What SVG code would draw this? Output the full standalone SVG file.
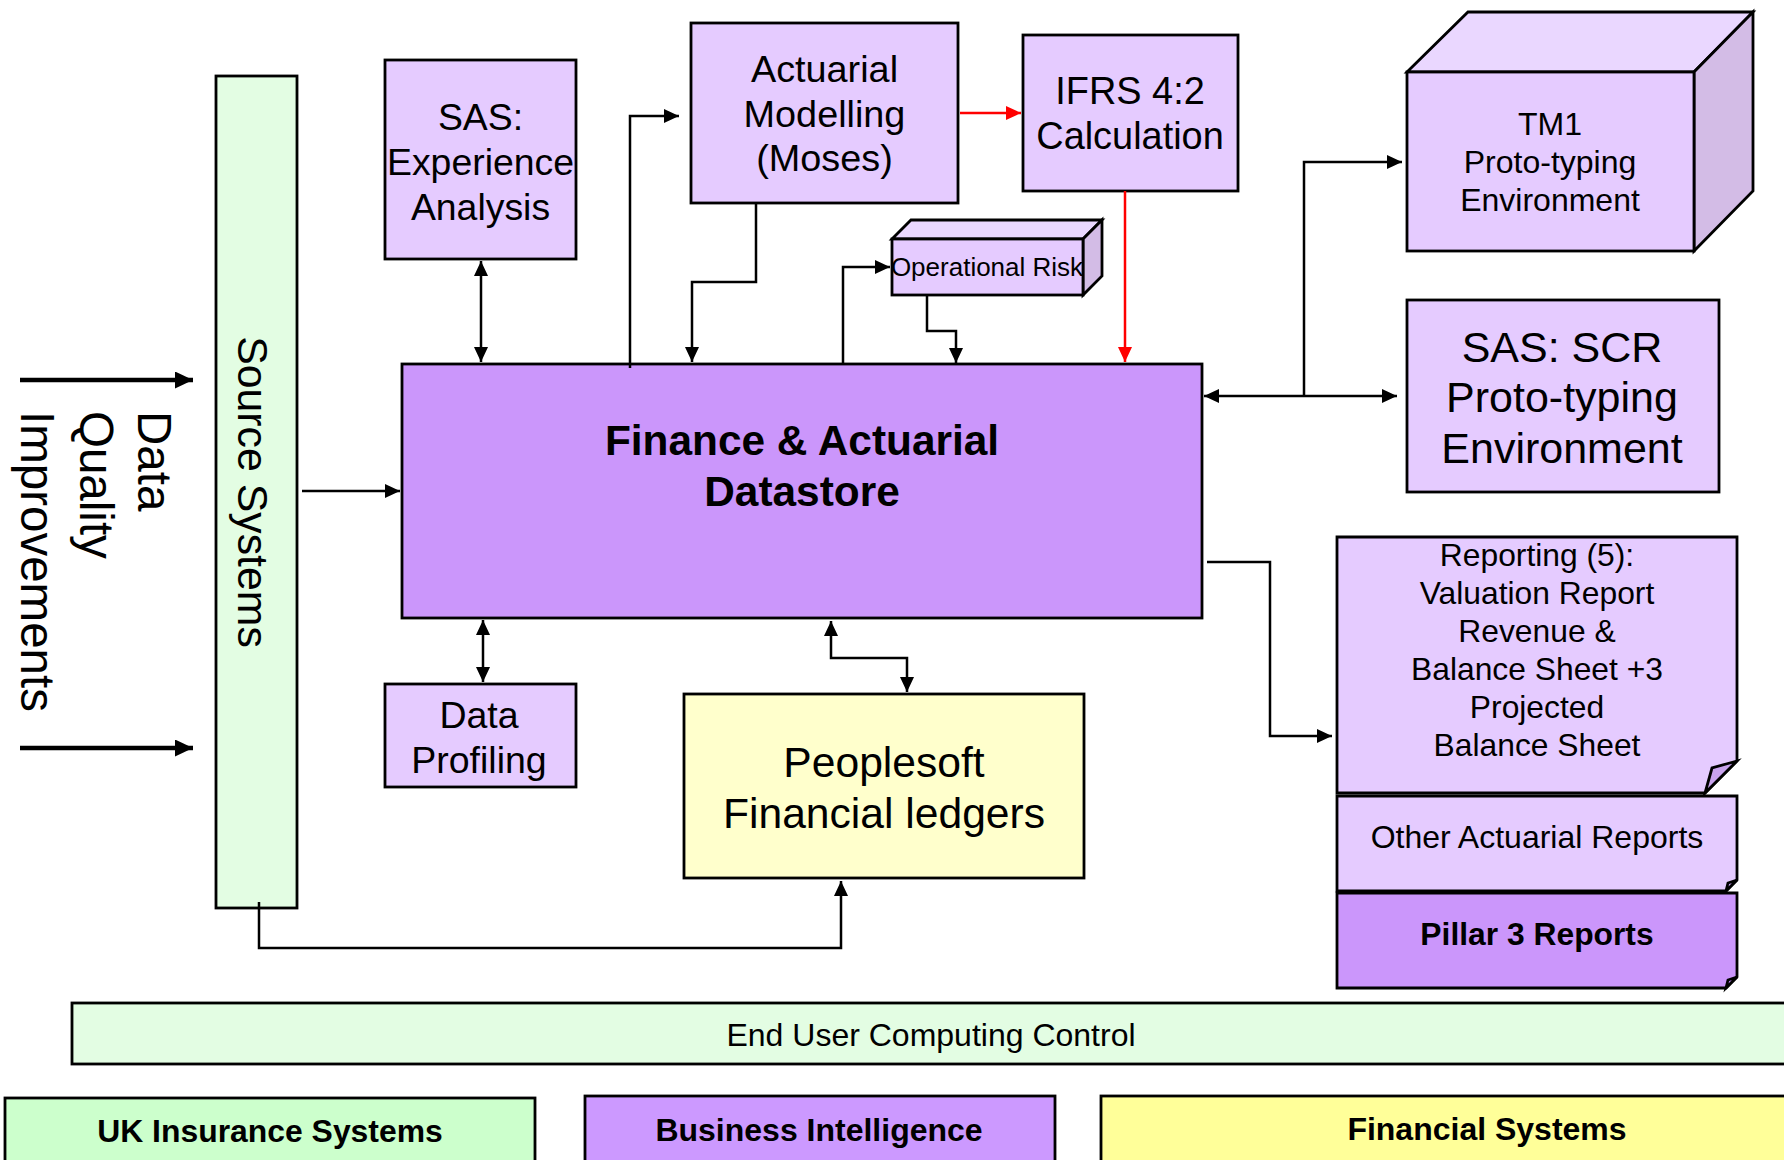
<svg xmlns="http://www.w3.org/2000/svg" width="1784" height="1160" viewBox="0 0 1784 1160">
<defs>
<style>
.box{stroke:#000;stroke-width:2.8}
.lp{fill:#E5CBFF}
.dp{fill:#CB96FB}
.lg{fill:#E3FDE3}
.t{font-family:"Liberation Sans",Arial,sans-serif;fill:#000;text-anchor:middle}
.b{font-weight:bold}
.c{fill:none;stroke:#000;stroke-width:2.5}
.r{fill:none;stroke:#FF0000;stroke-width:2.5}
.thick{fill:none;stroke:#000;stroke-width:4.5}
</style>
<marker id="ah" markerUnits="userSpaceOnUse" markerWidth="15" markerHeight="14" refX="15" refY="7" orient="auto-start-reverse" viewBox="0 0 15 14"><path d="M0,0 L15,7 L0,14 z" fill="#000"/></marker>
<marker id="ahr" markerUnits="userSpaceOnUse" markerWidth="15" markerHeight="14" refX="15" refY="7" orient="auto" viewBox="0 0 15 14"><path d="M0,0 L15,7 L0,14 z" fill="#FF0000"/></marker>
<marker id="aht" markerUnits="userSpaceOnUse" markerWidth="18" markerHeight="17" refX="18" refY="8.5" orient="auto" viewBox="0 0 18 17"><path d="M0,0 L18,8.5 L0,17 z" fill="#000"/></marker>
</defs>

<g id="source-systems">
<rect class="box lg" x="216" y="76" width="81" height="832"/>
<text class="t" font-size="42.8" transform="translate(253,492) rotate(90)" x="0" y="15">Source Systems</text>
</g>

<g id="data-quality">
<text class="t" font-size="47.5" style="text-anchor:start" transform="translate(0,411) rotate(90)"><tspan x="0" y="-138">Data</tspan><tspan x="0" y="-80">Quality</tspan><tspan x="0" y="-21">Improvements</tspan></text>
</g>

<g id="sas-experience">
<rect class="box lp" x="385" y="60" width="191" height="199"/>
<text class="t" font-size="37.4"><tspan x="480.5" y="130">SAS:</tspan><tspan x="480.5" y="175">Experience</tspan><tspan x="480.5" y="220">Analysis</tspan></text>
</g>

<g id="actuarial-modelling">
<rect class="box lp" x="691" y="23" width="267" height="180"/>
<text class="t" font-size="37.8"><tspan x="824.5" y="82">Actuarial</tspan><tspan x="824.5" y="127">Modelling</tspan><tspan x="824.5" y="171">(Moses)</tspan></text>
</g>

<g id="ifrs">
<rect class="box lp" x="1023" y="35" width="215" height="156"/>
<text class="t" font-size="37.9"><tspan x="1130" y="104">IFRS 4:2</tspan><tspan x="1130" y="149">Calculation</tspan></text>
</g>

<g id="tm1">
<polygon class="box" fill="#EAD7FF" points="1407,72 1468,12 1753,12 1694,72"/>
<polygon class="box" fill="#D3BCE6" points="1694,72 1753,12 1753,191 1694,251"/>
<rect class="box lp" x="1407" y="72" width="287" height="179"/>
<text class="t" font-size="32"><tspan x="1550" y="135">TM1</tspan><tspan x="1550" y="173">Proto-typing</tspan><tspan x="1550" y="211">Environment</tspan></text>
</g>

<g id="operational-risk">
<polygon class="box" fill="#EAD7FF" points="892,239 911,220 1102,220 1083,239"/>
<polygon class="box" fill="#D3BCE6" points="1083,239 1102,220 1102,276 1083,295"/>
<rect class="box lp" x="892" y="239" width="191" height="56"/>
<text class="t" font-size="26" x="987" y="276">Operational Risk</text>
</g>

<g id="datastore">
<rect class="box dp" x="402" y="364" width="800" height="254"/>
<text class="t b" font-size="42.4"><tspan x="802" y="455">Finance &amp; Actuarial</tspan><tspan x="802" y="506">Datastore</tspan></text>
</g>

<g id="sas-scr">
<rect class="box lp" x="1407" y="300" width="312" height="192"/>
<text class="t" font-size="43"><tspan x="1562" y="362">SAS: SCR</tspan><tspan x="1562" y="412">Proto-typing</tspan><tspan x="1562" y="463">Environment</tspan></text>
</g>

<g id="reporting">
<path class="box lp" d="M1337,537 H1737 V761 L1705,793 H1337 Z"/>
<path class="box" fill="#C9A3EE" stroke-width="2" d="M1737,761 L1712,768 L1705,793 Z"/>
<text class="t" font-size="31.8"><tspan x="1537" y="566">Reporting (5):</tspan><tspan x="1537" y="604">Valuation Report</tspan><tspan x="1537" y="642">Revenue &amp;</tspan><tspan x="1537" y="680">Balance Sheet +3</tspan><tspan x="1537" y="718">Projected</tspan><tspan x="1537" y="756">Balance Sheet</tspan></text>
</g>

<g id="other-actuarial">
<path class="box lp" d="M1337,796 H1737 V880 L1726,891 H1337 Z"/>
<path class="box" fill="#C9A3EE" stroke-width="1.5" d="M1737,880 L1728,883 L1726,891 Z"/>
<text class="t" font-size="32" x="1537" y="848">Other Actuarial Reports</text>
</g>

<g id="pillar3">
<path class="box dp" d="M1337,893 H1737 V977 L1726,988 H1337 Z"/>
<path class="box" fill="#B783EA" stroke-width="1.5" d="M1737,977 L1728,980 L1726,988 Z"/>
<text class="t b" font-size="31.8" x="1537" y="945">Pillar 3 Reports</text>
</g>

<g id="data-profiling">
<rect class="box lp" x="385" y="684" width="191" height="103"/>
<text class="t" font-size="37.5"><tspan x="479" y="728">Data</tspan><tspan x="479" y="773">Profiling</tspan></text>
</g>

<g id="peoplesoft">
<rect class="box" fill="#FFFFCC" x="684" y="694" width="400" height="184"/>
<text class="t" font-size="42.6"><tspan x="884" y="777">Peoplesoft</tspan><tspan x="884" y="828">Financial ledgers</tspan></text>
</g>

<g id="euc">
<rect class="box lg" x="72" y="1003" width="1720" height="61"/>
<text class="t" font-size="32" x="931" y="1046">End User Computing Control</text>
</g>

<g id="uk-insurance">
<rect class="box" fill="#CCFFCC" x="5" y="1098" width="530" height="80"/>
<text class="t b" font-size="31.9" x="270" y="1142">UK Insurance Systems</text>
</g>

<g id="business-intelligence">
<rect class="box" fill="#CC99FF" x="585" y="1096" width="470" height="80"/>
<text class="t b" font-size="32" x="819" y="1141">Business Intelligence</text>
</g>

<g id="financial-systems">
<rect class="box" fill="#FFFF99" x="1101" y="1096" width="700" height="80"/>
<text class="t b" font-size="32" x="1487" y="1140">Financial Systems</text>
</g>

<g id="connectors">
<path class="thick" d="M20,380 H193" marker-end="url(#aht)"/>
<path class="thick" d="M20,748 H193" marker-end="url(#aht)"/>
<path class="c" d="M302,491 H400" marker-end="url(#ah)"/>
<path class="c" d="M481,261 V362" marker-start="url(#ah)" marker-end="url(#ah)"/>
<path class="c" d="M630,368 V116 H679" marker-end="url(#ah)"/>
<path class="c" d="M756,203 V282 H692 V362" marker-end="url(#ah)"/>
<path class="c" d="M843,364 V267 H890" marker-end="url(#ah)"/>
<path class="c" d="M927,296 V331 H956 V363" marker-end="url(#ah)"/>
<path class="r" d="M960,113 H1021" marker-end="url(#ahr)"/>
<path class="r" d="M1125,191 V362" marker-end="url(#ahr)"/>
<path class="c" d="M1204,396 H1397" marker-start="url(#ah)" marker-end="url(#ah)"/>
<path class="c" d="M1304,396 V162 H1402" marker-end="url(#ah)"/>
<path class="c" d="M1207,562 H1270 V736 H1332" marker-end="url(#ah)"/>
<path class="c" d="M483,620 V682" marker-start="url(#ah)" marker-end="url(#ah)"/>
<path class="c" d="M831,621 V658 H907 V692" marker-start="url(#ah)" marker-end="url(#ah)"/>
<path class="c" d="M259,902 V948 H841 V881" marker-end="url(#ah)"/>
</g>
</svg>
